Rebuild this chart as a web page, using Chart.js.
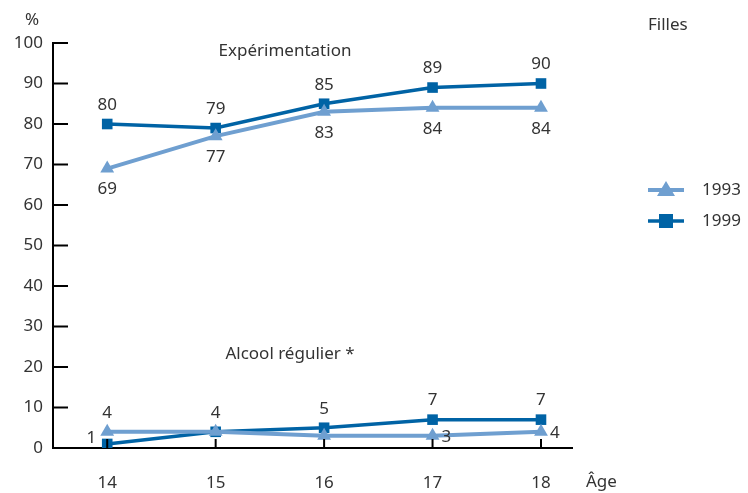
<!DOCTYPE html>
<html><head><meta charset="utf-8">
<script src="https://cdn.jsdelivr.net/npm/chart.js@4/dist/chart.umd.min.js"></script>
<style>html,body{margin:0;padding:0;background:#fff}#wrap{width:748px;height:493px;position:relative}</style>
</head><body><div id="wrap"><canvas id="c" width="748" height="493"></canvas></div>
<script>
const ages = [14, 15, 16, 17, 18];
const yTicks = [0, 10, 20, 30, 40, 50, 60, 70, 80, 90, 100];
const exp1993 = [69, 77, 83, 84, 84];
const exp1999 = [80, 79, 85, 89, 90];
const alc1993 = [4, 4, 3, 3, 4];
const alc1999 = [1, 4, 5, 7, 7];
const seriesNames = ['1993', '1999'];

const LIGHT = '#6f9fd0';
const DARK = '#0063a5';
const TXT = '#333333';
const FONT = '"Noto Sans", "Open Sans", sans-serif';

// label placement per point ('top','bottom','left','right', or null)
const labelPlace = {
  exp1993: ['bottom','bottom','bottom','bottom','bottom'],
  exp1999: ['top','top','top','top','top'],
  alc1993: ['top','top',null,'right','right'],
  alc1999: ['left',null,'top','top','top']
};

const pts = arr => ages.map((a, i) => ({x: a, y: arr[i]}));
function ds(key, arr, color, style) {
  return {
    key, data: pts(arr), borderColor: color, backgroundColor: color,
    borderWidth: style === 'triangle' ? 4 : 3.5,
    pointStyle: style === 'triangle' ? 'triangle' : 'rect',
    pointRadius: style === 'triangle' ? 8 : 7.5,
    pointHoverRadius: 8, pointBorderWidth: 0, tension: 0
  };
}

const labelsPlugin = {
  id: 'labels',
  afterDatasetsDraw(chart) {
    const ctx = chart.ctx;
    ctx.save();
    ctx.font = '17px ' + FONT;
    ctx.fillStyle = TXT;
    chart.data.datasets.forEach((d, di) => {
      const meta = chart.getDatasetMeta(di);
      const places = labelPlace[d.key];
      meta.data.forEach((el, i) => {
        const p = places[i];
        if (!p) return;
        const v = d.data[i].y;
        let x = el.x, y = el.y;
        ctx.textAlign = 'center'; ctx.textBaseline = 'middle';
        if (p === 'top') y -= 19;
        else if (p === 'bottom') y += 21;
        else if (p === 'left') { x -= 11; y -= 6; ctx.textAlign = 'right'; }
        else if (p === 'right') { x += 9; y += 1; ctx.textAlign = 'left'; }
        ctx.fillText(String(v), x, y);
      });
    });
    ctx.restore();
  }
};

const decorPlugin = {
  id: 'decor',
  afterDraw(chart) {
    const ctx = chart.ctx;
    const xs = chart.scales.x, ys = chart.scales.y;
    const ca = chart.chartArea;
    ctx.save();
    // inward ticks
    ctx.strokeStyle = '#000'; ctx.lineWidth = 2;
    yTicks.forEach(v => {
      const y = ys.getPixelForValue(v);
      ctx.beginPath(); ctx.moveTo(ca.left, y); ctx.lineTo(ca.left + 15, y); ctx.stroke();
    });
    ages.forEach(a => {
      const x = xs.getPixelForValue(a);
      ctx.beginPath(); ctx.moveTo(x, ca.bottom); ctx.lineTo(x, ca.bottom - 9); ctx.stroke();
    });
    ctx.fillStyle = TXT;
    ctx.font = '17px ' + FONT;
    ctx.textBaseline = 'middle';
    ctx.textAlign = 'left';
    ctx.fillText('%', 25, 20);
    ctx.fillText('Filles', 648, 25);
    ctx.fillText('Âge', 586, 482);
    ctx.textAlign = 'center';
    ctx.fillText('Expérimentation', 285, 51);
    ctx.fillText('Alcool régulier *', 290, 354);
    // legend
    const items = [{c: LIGHT, s: 'triangle', y: 190}, {c: DARK, s: 'rect', y: 221}];
    items.forEach((it, i) => {
      ctx.strokeStyle = it.c; ctx.fillStyle = it.c; ctx.lineWidth = it.s === 'triangle' ? 4 : 3.5;
      ctx.beginPath(); ctx.moveTo(648, it.y); ctx.lineTo(684, it.y); ctx.stroke();
      if (it.s === 'triangle') {
        ctx.beginPath(); ctx.moveTo(666, it.y - 9); ctx.lineTo(675, it.y + 6); ctx.lineTo(657, it.y + 6); ctx.closePath(); ctx.fill();
      } else {
        ctx.fillRect(659, it.y - 7, 14, 14);
      }
      ctx.fillStyle = TXT; ctx.textAlign = 'left';
      ctx.fillText(seriesNames[i], 702, it.y);
    });
    ctx.restore();
  }
};

new Chart(document.getElementById('c'), {
  type: 'line',
  data: {
    datasets: [
      ds('exp1993', exp1993, LIGHT, 'triangle'),
      ds('exp1999', exp1999, DARK, 'rect'),
      ds('alc1993', alc1993, LIGHT, 'triangle'),
      ds('alc1999', alc1999, DARK, 'rect')
    ]
  },
  options: {
    responsive: false, animation: false, devicePixelRatio: 1,
    layout: {padding: {left: 0, top: 43, right: 176, bottom: 0}},
    plugins: {legend: {display: false}, tooltip: {enabled: false}},
    scales: {
      x: {
        type: 'linear', min: 13.5, max: 18.286,
        afterBuildTicks: s => { s.ticks = ages.map(v => ({value: v})); },
        afterFit: s => { s.height = 45; },
        grid: {display: false, drawTicks: false},
        border: {display: true, color: '#000', width: 2},
        ticks: {color: TXT, font: {size: 17, family: FONT}, padding: 25, maxRotation: 0, autoSkip: false}
      },
      y: {
        min: 0, max: 100,
        afterBuildTicks: s => { s.ticks = yTicks.map(v => ({value: v})); },
        afterFit: s => { s.width = 53; },
        grid: {display: false, drawTicks: false},
        border: {display: true, color: '#000', width: 2},
        ticks: {color: TXT, font: {size: 17, family: FONT}, padding: 10}
      }
    }
  },
  plugins: [labelsPlugin, decorPlugin]
});
</script></body></html>
